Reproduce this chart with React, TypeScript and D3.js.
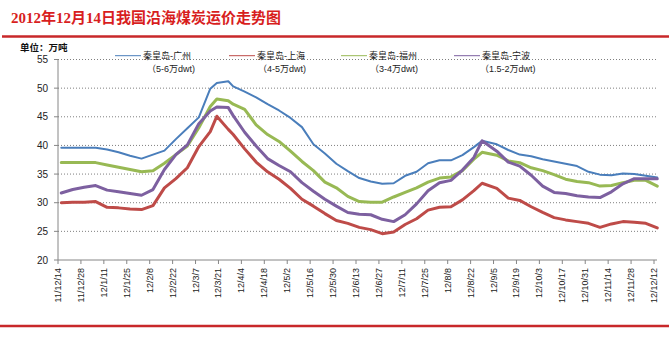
import React from "react";
import * as d3 from "d3";

const dates = [
  "2011-12-16", "2011-12-23", "2011-12-30", "2012-01-06", "2012-01-13", "2012-01-20", "2012-01-27",
  "2012-02-03", "2012-02-10", "2012-02-17", "2012-02-24", "2012-03-02", "2012-03-09", "2012-03-16",
  "2012-03-20", "2012-03-27", "2012-03-30", "2012-04-06", "2012-04-13", "2012-04-20", "2012-04-27",
  "2012-05-04", "2012-05-11", "2012-05-18", "2012-05-25", "2012-06-01", "2012-06-08", "2012-06-15",
  "2012-06-22", "2012-06-29", "2012-07-06", "2012-07-13", "2012-07-20", "2012-07-27", "2012-08-03",
  "2012-08-10", "2012-08-17", "2012-08-24", "2012-08-29", "2012-09-07", "2012-09-14", "2012-09-21",
  "2012-09-28", "2012-10-05", "2012-10-12", "2012-10-19", "2012-10-26", "2012-11-02", "2012-11-09",
  "2012-11-16", "2012-11-23", "2012-11-30", "2012-12-07", "2012-12-14",
];

const guangzhou = [
  39.6, 39.6, 39.6, 39.6, 39.3, 38.8, 38.2, 37.7, 38.4, 39.1, 41.1, 43.0, 44.9, 49.9,
  50.9, 51.2, 50.3, 49.4, 48.4, 47.2, 46.1, 44.8, 43.2, 40.2, 38.6, 36.8, 35.5, 34.3,
  33.7, 33.3, 33.4, 34.7, 35.4, 36.9, 37.4, 37.4, 38.3, 39.7, 40.8, 40.2, 39.2, 38.4,
  38.1, 37.6, 37.2, 36.8, 36.4, 35.4, 34.9, 34.8, 35.1, 35.0, 34.7, 34.4,
];
const shanghai = [
  30.0, 30.1, 30.1, 30.2, 29.2, 29.1, 28.9, 28.8, 29.5, 32.6, 34.2, 36.1, 39.8, 42.4,
  45.1, 42.8, 41.9, 39.4, 37.1, 35.4, 34.1, 32.5, 30.6, 29.4, 28.1, 26.9, 26.4, 25.7,
  25.3, 24.6, 24.9, 26.2, 27.2, 28.7, 29.2, 29.3, 30.5, 32.1, 33.4, 32.5, 30.8, 30.4,
  29.3, 28.3, 27.4, 27.0, 26.7, 26.4, 25.7, 26.3, 26.7, 26.6, 26.4, 25.6,
];
const fuzhou = [
  37.0, 37.0, 37.0, 37.0, 36.6, 36.2, 35.8, 35.4, 35.6, 36.9, 38.4, 39.9, 43.1, 46.8,
  48.1, 47.8, 47.2, 46.3, 43.6, 41.9, 40.7, 39.0, 37.2, 35.6, 33.6, 32.6, 31.1, 30.2,
  30.1, 30.1, 31.0, 31.8, 32.6, 33.6, 34.3, 34.5, 35.6, 37.6, 38.8, 38.3, 37.3, 37.0,
  36.1, 35.6, 34.9, 34.1, 33.7, 33.5, 32.9, 33.0, 33.5, 33.9, 33.9, 32.9,
];
const ningbo = [
  31.7, 32.3, 32.7, 33.0, 32.2, 31.9, 31.6, 31.3, 32.3, 35.8, 38.4, 40.1, 43.8, 46.0,
  46.7, 46.6, 45.2, 42.3, 39.9, 37.7, 36.5, 35.4, 33.5, 32.0, 30.6, 29.4, 28.3, 28.0,
  27.9, 27.1, 26.7, 27.9, 29.8, 32.1, 33.5, 33.9, 35.7, 37.9, 40.8, 39.0, 37.1, 36.4,
  34.8, 32.9, 31.8, 31.6, 31.2, 31.0, 30.9, 31.9, 33.3, 34.2, 34.2, 34.2,
];

const seriesNames = ["秦皇岛-广州", "秦皇岛-上海", "秦皇岛-福州", "秦皇岛-宁波"];
const seriesNotes = ["（5-6万dwt)", "（4-5万dwt)", "（3-4万dwt)", "（1.5-2万dwt)"];
const seriesColors = ["#4a7ebb", "#be4b48", "#98b954", "#7d60a0"];
const seriesWidths = [2, 3, 3, 3];

const yTicks = [20, 25, 30, 35, 40, 45, 50, 55];
const xTickLabels = [
  "11/12/14", "11/12/28", "12/1/11", "12/1/25", "12/2/8", "12/2/22", "12/3/7", "12/3/21", "12/4/4",
  "12/4/18", "12/5/2", "12/5/16", "12/5/30", "12/6/13", "12/6/27", "12/7/11", "12/7/25", "12/8/8",
  "12/8/22", "12/9/5", "12/9/19", "12/10/3", "12/10/17", "12/10/31", "12/11/14", "12/11/28", "12/12/12",
];

const title = "2012年12月14日我国沿海煤炭运价走势图";
const unitLabel = "单位：万吨";

const parseDate = d3.timeParse("%Y-%m-%d");
const parseTick = (s: string) => {
  const [yy, mm, dd] = s.split("/").map(Number);
  return new Date(2000 + yy, mm - 1, dd);
};

export default function App() {
  const W = 669;
  const H = 355;
  const tickDates = xTickLabels.map(parseTick);
  const x = d3
    .scaleTime()
    .domain([tickDates[0], tickDates[tickDates.length - 1]])
    .range([58, 654]);
  const y = d3.scaleLinear().domain([20, 55]).range([260, 59.5]);
  const xs = dates.map((d) => parseDate(d) as Date);
  const allSeries = [guangzhou, shanghai, fuzhou, ningbo];
  const line = d3
    .line<number>()
    .x((_, i) => x(xs[i]))
    .y((v) => y(v));

  const plotLeft = 58;
  const plotRight = 657;
  const legendX = [115, 229, 341, 454];
  const noteX = [147, 258, 370, 480];
  const numFont = "Arial, 'Liberation Sans', sans-serif";
  const cjkFont = "'Liberation Sans', 'Noto Sans CJK SC', sans-serif";

  return (
    <svg
      width={W}
      height={H}
      style={{ position: "absolute", left: 0, top: 0, background: "#fff" }}
    >
      <rect x={0} y={0} width={W} height={H} fill="#fff" />
      <text
        x={11}
        y={23}
        fontFamily="'Liberation Serif', 'Times New Roman', 'Noto Sans CJK SC', serif"
        fontWeight="bold"
        fontSize={15}
        fill="#d81e1e"
      >
        {title}
      </text>
      <line x1={2} x2={W} y1={36.5} y2={36.5} stroke="#c8282a" strokeWidth={2.5} />
      <line x1={0} x2={W} y1={326} y2={326} stroke="#c8282a" strokeWidth={2.5} />

      <text x={20} y={51} fontFamily={cjkFont} fontWeight="bold" fontSize={9.5} fill="#111">
        {unitLabel}
      </text>

      {/* gridlines */}
      {yTicks
        .filter((t) => t > 20)
        .map((t) => (
          <line
            key={"g" + t}
            x1={plotLeft}
            x2={plotRight}
            y1={y(t)}
            y2={y(t)}
            stroke="#7f7f7f"
            strokeWidth={1}
            strokeDasharray="1,2"
          />
        ))}

      {/* y axis */}
      <line x1={plotLeft} x2={plotLeft} y1={y(55)} y2={y(20)} stroke="#868686" strokeWidth={1} />
      {yTicks.map((t) => (
        <g key={"y" + t}>
          <line x1={plotLeft - 4} x2={plotLeft} y1={y(t)} y2={y(t)} stroke="#868686" />
          <text
            x={48}
            y={y(t) + 3.5}
            textAnchor="end"
            fontFamily={numFont}
            fontSize={10}
            fill="#222"
          >
            {t}
          </text>
        </g>
      ))}

      {/* x axis */}
      <line x1={plotLeft} x2={plotRight} y1={y(20)} y2={y(20)} stroke="#868686" strokeWidth={1} />
      {tickDates.map((d, i) => (
        <g key={"x" + i}>
          <line x1={x(d)} x2={x(d)} y1={y(20)} y2={y(20) + 4} stroke="#868686" />
          <text
            transform={`translate(${x(d)},268) rotate(-90)`}
            textAnchor="end"
            dominantBaseline="central"
            fontFamily={numFont}
            fontSize={9}
            fill="#222"
          >
            {xTickLabels[i]}
          </text>
        </g>
      ))}

      {/* series */}
      {allSeries.map((s, k) => (
        <path
          key={"s" + k}
          d={line(s) || ""}
          fill="none"
          stroke={seriesColors[k]}
          strokeWidth={seriesWidths[k]}
          strokeLinejoin="round"
          strokeLinecap="round"
        />
      ))}

      {/* legend */}
      {seriesNames.map((n, k) => (
        <g key={"l" + k}>
          <line
            x1={legendX[k]}
            x2={legendX[k] + 26}
            y1={55.7}
            y2={55.7}
            stroke={seriesColors[k]}
            strokeWidth={1}
          />
          <text
            x={legendX[k] + 28}
            y={55.7}
            dominantBaseline="central"
            fontFamily={cjkFont}
            fontSize={9}
            fill="#222"
          >
            {n}
          </text>
          <text
            x={noteX[k]}
            y={68.5}
            dominantBaseline="central"
            fontFamily={cjkFont}
            fontSize={9}
            fill="#222"
          >
            {seriesNotes[k]}
          </text>
        </g>
      ))}
    </svg>
  );
}
